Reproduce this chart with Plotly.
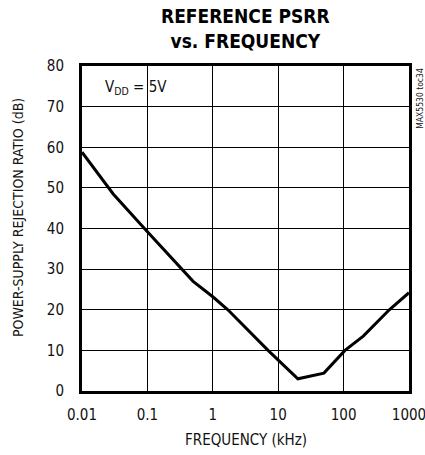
import plotly.graph_objects as go

freq_khz = [0.01, 0.03, 0.1, 0.5, 1, 1.7, 7, 20, 50, 105, 200, 500, 1000]
psrr_db = [58.8, 48.5, 39.2, 27, 23.2, 20, 10, 3.0, 4.4, 10, 13.5, 20, 24.2]

x_ticks = [0.01, 0.1, 1, 10, 100, 1000]
x_tick_text = ["0.01", "0.1", "1", "10", "100", "1000"]
y_ticks = [0, 10, 20, 30, 40, 50, 60, 70, 80]

FONT = "DejaVu Sans Condensed, Liberation Sans, sans-serif"

fig = go.Figure()
fig.add_trace(go.Scatter(x=freq_khz, y=psrr_db, mode="lines",
                         line=dict(color="black", width=3), showlegend=False,
                         hoverinfo="skip"))

fig.update_layout(
    width=425, height=455,
    margin=dict(l=82, r=16, t=66, b=64),
    paper_bgcolor="white", plot_bgcolor="white",
    font=dict(family=FONT, size=15, color="#111"),
)
fig.update_xaxes(type="log", range=[-2.0002, 3.0002], tickvals=x_ticks, ticktext=x_tick_text,
                 showgrid=True, gridcolor="black", gridwidth=1,
                 showline=True, linecolor="black", linewidth=3, mirror=True,
                 ticks="outside", ticklen=8, tickcolor="rgba(0,0,0,0)",
                 zeroline=False, automargin=False, ticklabeloverflow="allow",
                 tickfont=dict(family=FONT, size=15))
fig.update_yaxes(range=[0, 80], tickvals=y_ticks,
                 showgrid=True, gridcolor="black", gridwidth=1,
                 showline=True, linecolor="black", linewidth=3, mirror=True,
                 ticks="outside", ticklen=12, tickcolor="rgba(0,0,0,0)",
                 zeroline=False, automargin=False,
                 tickfont=dict(family=FONT, size=15))

# chart title
fig.add_annotation(x=0.5, y=1.0, xref="paper", yref="paper", yshift=12,
                   text="<b>REFERENCE PSRR<br>vs. FREQUENCY</b>", showarrow=False,
                   xanchor="center", yanchor="bottom",
                   font=dict(family=FONT, size=19, color="black"))
# axis titles
fig.add_annotation(x=0.5, y=0, xref="paper", yref="paper", yshift=-49,
                   text="FREQUENCY (kHz)", showarrow=False,
                   xanchor="center", yanchor="middle",
                   font=dict(family=FONT, size=15, color="#111"))
fig.add_annotation(x=0, y=0.532, xref="paper", yref="paper", xshift=-64,
                   text="POWER-SUPPLY REJECTION RATIO (dB)", showarrow=False,
                   textangle=-90, xanchor="center", yanchor="middle",
                   font=dict(family=FONT, size=14, color="#111"))
fig.add_annotation(x=0.064, y=0.935, xref="paper", yref="paper",
                   text="V<sub>DD</sub> = 5V", showarrow=False,
                   xanchor="left", yanchor="middle",
                   font=dict(family=FONT, size=15, color="#111"))
fig.add_annotation(x=1.01, y=1.0, xref="paper", yref="paper",
                   text="MAX5530 toc34", showarrow=False, textangle=-90,
                   xanchor="left", yanchor="top",
                   font=dict(family=FONT, size=8.5, color="#111"))

fig.write_html("out.html", config={"displayModeBar": False},
               post_script="document.body.style.margin='0';")
